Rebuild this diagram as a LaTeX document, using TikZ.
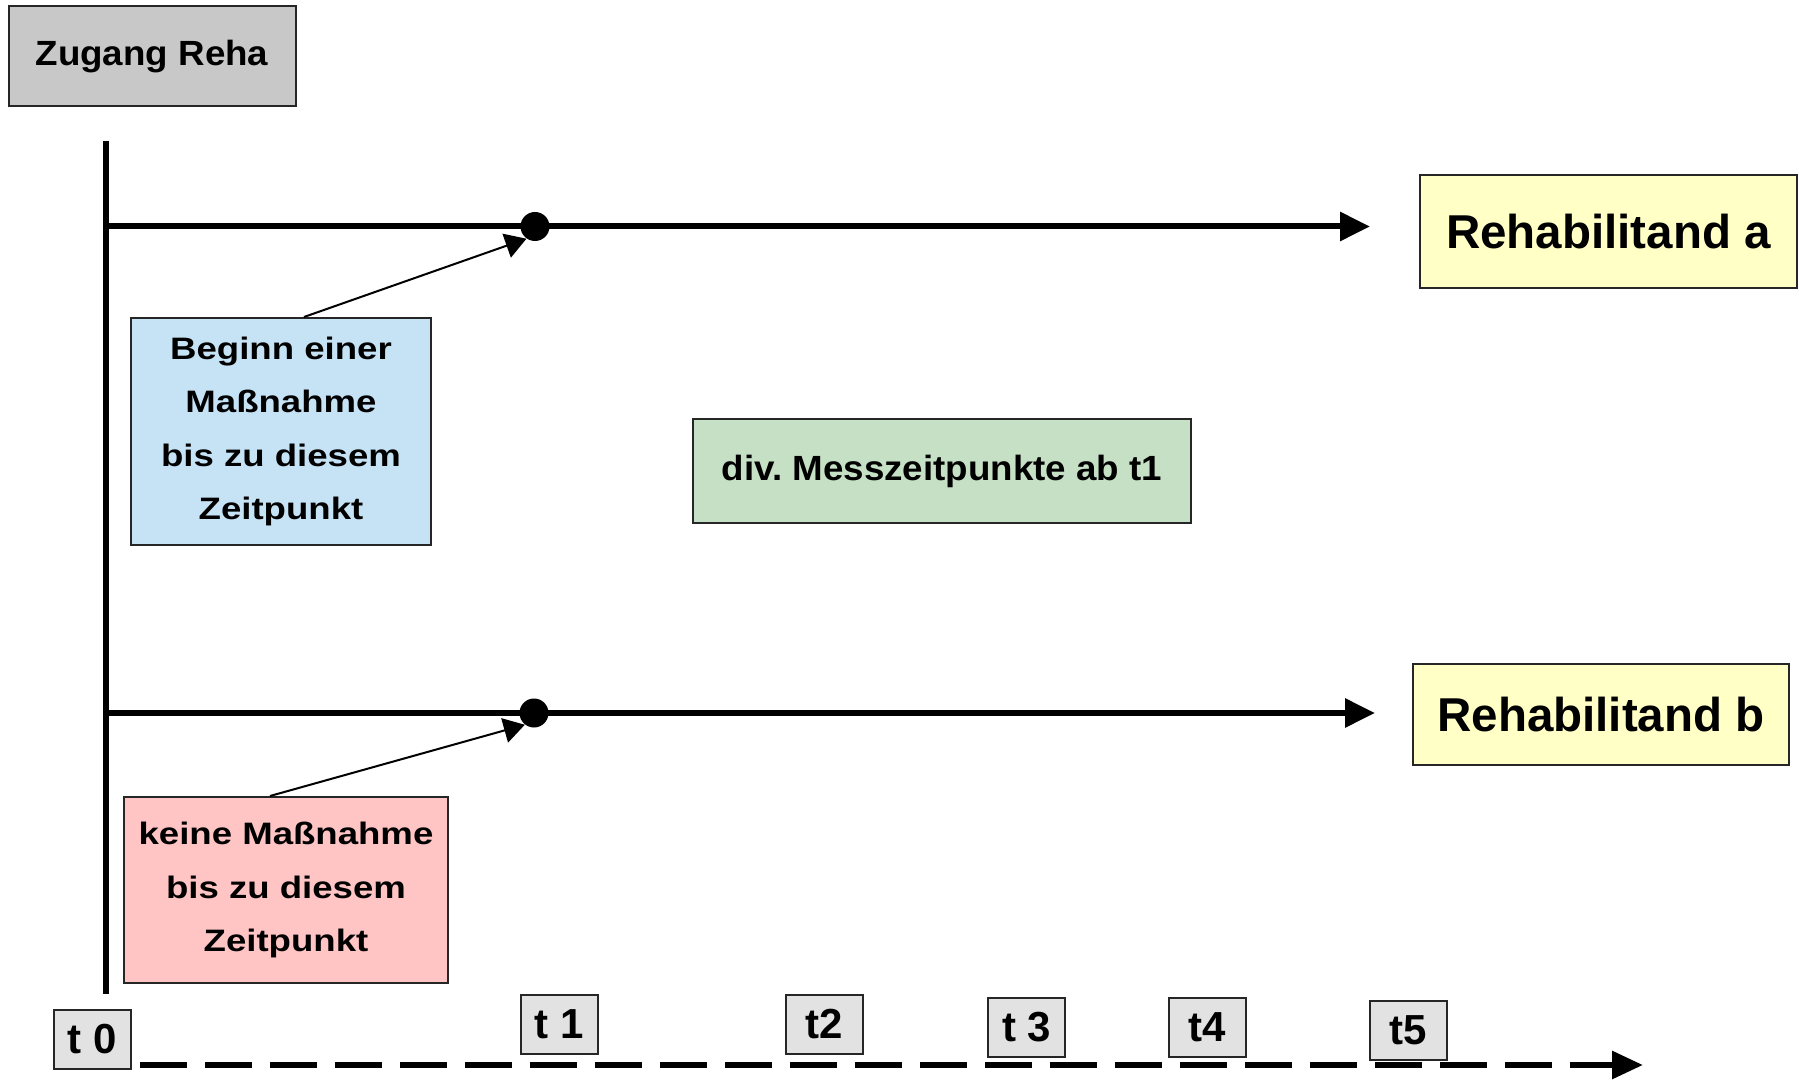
\documentclass[tikz,border=0pt]{standalone}
\usepackage{fontspec}
\setmainfont{Liberation Sans}
\newfontfamily\widefont[FakeStretch=1.18]{Liberation Sans}
\newfontfamily\midfont[FakeStretch=1.05]{Liberation Sans}
\usetikzlibrary{arrows.meta}
\definecolor{zgray}{HTML}{C8C8C8}
\definecolor{blueb}{HTML}{C6E3F6}
\definecolor{greenb}{HTML}{C5E0C4}
\definecolor{yelb}{HTML}{FFFFC6}
\definecolor{pinkb}{HTML}{FFC4C4}
\definecolor{tgray}{HTML}{E2E2E2}
\frenchspacing
\begin{document}
\begin{tikzpicture}[x=0.5pt,y=-0.5pt,
  box/.style={draw=black!85, line width=1pt, inner sep=0pt, align=center, text=black},
  tbox/.style={box, fill=tgray, minimum width=38.5pt, minimum height=29.5pt,
    font=\bfseries\fontsize{21}{25}\selectfont},
  midtext/.style={font=\midfont\bfseries\fontsize{17.5}{21}\selectfont},
  widetext/.style={font=\widefont\bfseries\fontsize{15.5}{26.75}\selectfont},
  bigtext/.style={font=\bfseries\fontsize{23.75}{28}\selectfont},
  mainline/.style={line width=3pt},
  mainarrow/.style={mainline, -{Triangle[length=15pt,width=14pt]}},
  dasharrow/.style={line width=3pt, dash pattern=on 23.5pt off 9pt, -{Triangle[length=15.5pt,width=13.5pt]}},
  pointer/.style={line width=1pt, -{Triangle[length=10.5pt,width=12.5pt]}},
  dot/.style={circle, fill=black, inner sep=0pt, minimum size=14.5pt}
]
\useasboundingbox (0,0) rectangle (1799,1080);

% boxes
\node[box, fill=zgray, minimum width=143.5pt, minimum height=50pt, midtext] (zug) at (152,56.5) {Zugang Reha};
\node[box, fill=blueb, minimum width=150pt, minimum height=113.5pt, widetext] (beg) at (281,431.5) {Beginn einer\\Maßnahme\\bis zu diesem\\Zeitpunkt};
\node[box, fill=greenb, minimum width=249pt, minimum height=52pt, midtext] (div) at (942,471) {div. Messzeitpunkte ab t1};
\node[box, fill=yelb, minimum width=188.5pt, minimum height=56.5pt, bigtext] (ra) at (1608.5,231.5) {Rehabilitand a};
\node[box, fill=yelb, minimum width=188pt, minimum height=50.5pt, bigtext] (rb) at (1601,714.5) {Rehabilitand b};
\node[box, fill=pinkb, minimum width=162pt, minimum height=93pt, widetext] (kei) at (286,890) {keine Maßnahme\\bis zu diesem\\Zeitpunkt};

% time labels
\node[tbox] (t0) at (92.5,1039) {t 0};
\node[tbox] (t1) at (559,1024) {t 1};
\node[tbox] (t2) at (824,1024.5) {t2};
\node[tbox] (t3) at (1026.5,1027.5) {t 3};
\node[tbox] (t4) at (1207.5,1027.5) {t4};
\node[tbox] (t5) at (1408,1030) {t5};

% coordinates
\coordinate (vtop) at (106,141);
\coordinate (vbot) at (106,994);
\coordinate (la) at (106,226.5);
\coordinate (lae) at (1370,226.5);
\coordinate (lb) at (106,713);
\coordinate (lbe) at (1375,713);
\coordinate (ds) at (140,1065);
\coordinate (de) at (1643,1065);

% lines
\draw[mainline] (vtop) -- (vbot);
\draw[mainarrow] (la) -- (lae);
\draw[mainarrow] (lb) -- (lbe);
\draw[dasharrow] (ds) -- (de);

% dots
\node[dot] (da) at (535,226.5) {};
\node[dot] (db) at (534,713) {};

% pointers
\draw[pointer] ([xshift=11.5pt]beg.north) -- (da.-125);
\draw[pointer] ([xshift=-8pt]kei.north) -- (db.-128);
\end{tikzpicture}
\end{document}
